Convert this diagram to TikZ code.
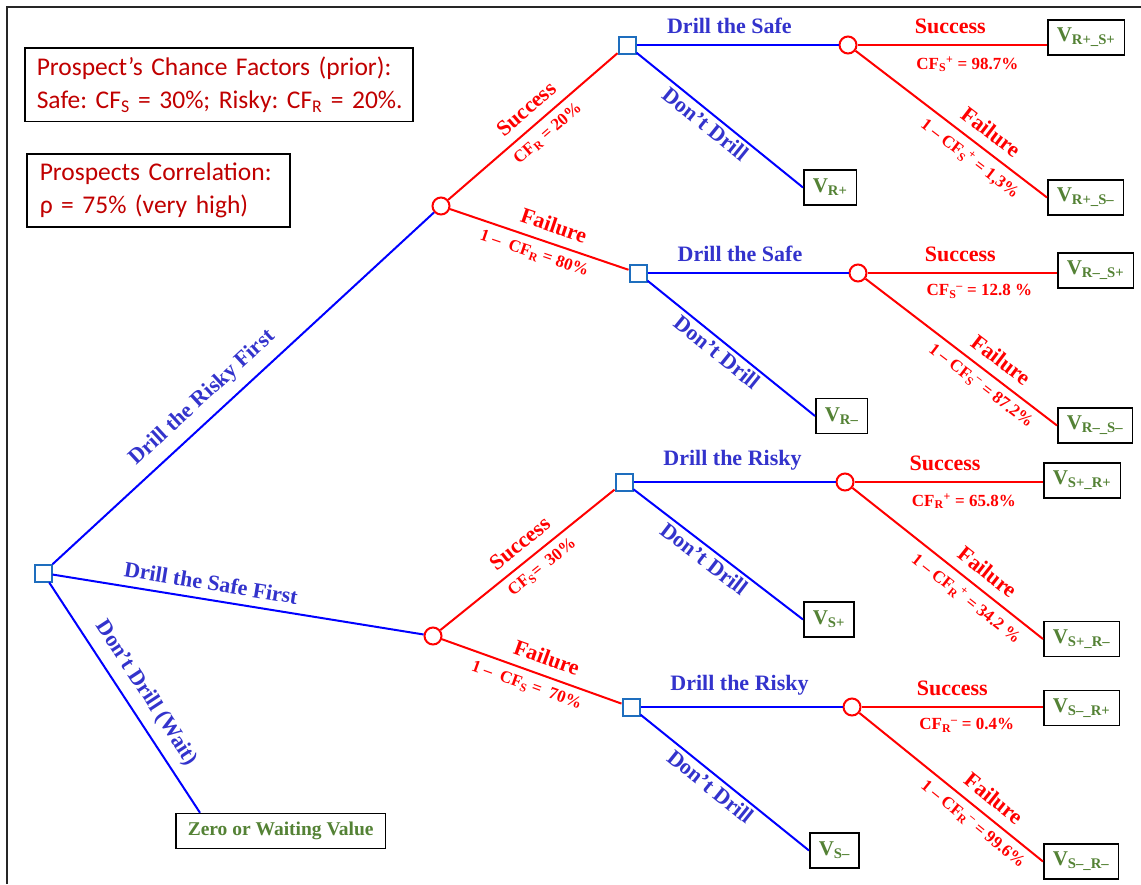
\documentclass[tikz,border=0pt]{standalone}
\usepackage{fontspec}
\setmainfont{Liberation Serif}
\newfontfamily\calib{Carlito}
\definecolor{lblblue}{RGB}{51,51,204}
\definecolor{lineblue}{RGB}{0,0,255}
\definecolor{decblue}{RGB}{30,110,190}
\definecolor{darkred}{RGB}{192,0,0}
\definecolor{vgreen}{RGB}{84,130,53}
\begin{document}
\frenchspacing
\begin{tikzpicture}[x=1pt,y=-1pt,
 dec/.style={draw=decblue, line width=2pt, fill=white, minimum size=17pt, inner sep=0pt},
 chn/.style={draw=red, line width=2pt, fill=white, circle, minimum size=17pt, inner sep=0pt},
 bl/.style={draw=lineblue, line width=2pt},
 rd/.style={draw=red, line width=2pt},
 act/.style={font=\fontsize{22}{26}\selectfont\bfseries, text=lblblue},
 oc/.style={font=\fontsize{22}{26}\selectfont\bfseries, text=red},
 pr/.style={font=\fontsize{17}{20}\selectfont\bfseries, text=red},
 val/.style={draw=black, line width=1.5pt, fill=white, font=\fontsize{21}{24}\selectfont\bfseries, text=vgreen, minimum height=35pt, inner xsep=9pt, inner ysep=2pt, anchor=west},
 info/.style={draw=black, line width=1.5pt, font=\calib\fontsize{25.5}{33}\selectfont, text=darkred, align=left, anchor=north west, inner xsep=12pt, inner ysep=9pt}
]
\useasboundingbox (0,0) rectangle (1141,884);
% frame
\draw[line width=1.5pt, black!85] (7,884) -- (7,7) -- (1141,7);

% info boxes
\node[info, text width=364pt] (info1) at (24,47) {\mbox{Prospect’s Chance Factors (prior):}\\\mbox{Safe: CF\textsubscript{S} = 30\%; Risky: CF\textsubscript{R} = 20\%.}};
\node[info, inner xsep=13pt, text width=237pt] (info2) at (26,153) {\mbox{Prospects Correlation:}\\\mbox{ρ = 75\% (very high)}};

% decision and chance nodes
\node[dec] (root) at (43,573) {};
\node[chn] (c1) at (441,206) {};
\node[chn] (c2) at (433,636) {};
\node[dec] (d1) at (627,45) {};
\node[dec] (d2) at (638,273) {};
\node[dec] (d3) at (624,482) {};
\node[dec] (d4) at (631,707) {};
\node[chn] (c11) at (848,45) {};
\node[chn] (c12) at (858,273) {};
\node[chn] (c21) at (845,482) {};
\node[chn] (c22) at (852,707) {};

% value boxes
\node[val] (vRpSp) at (1047,37.5) {V\textsubscript{R+\_S+}};
\node[val] (vRpSm) at (1047,197.5) {V\textsubscript{R+\_S–}};
\node[val] (vRp) at (803,187.5) {V\textsubscript{R+}};
\node[val] (vRmSp) at (1057,270.5) {V\textsubscript{R–\_S+}};
\node[val] (vRmSm) at (1057,425.5) {V\textsubscript{R–\_S–}};
\node[val] (vRm) at (815,416) {V\textsubscript{R–}};
\node[val] (vSpRp) at (1043,480.5) {V\textsubscript{S+\_R+}};
\node[val] (vSpRm) at (1043,639) {V\textsubscript{S+\_R–}};
\node[val] (vSp) at (803,619.5) {V\textsubscript{S+}};
\node[val] (vSmRp) at (1043,708) {V\textsubscript{S–\_R+}};
\node[val] (vSmRm) at (1043,861.5) {V\textsubscript{S–\_R–}};
\node[val] (vSm) at (809,850.5) {V\textsubscript{S–}};
\node[val, font=\fontsize{19.5}{22}\selectfont\bfseries, inner xsep=12pt] (zero) at (175,831) {Zero or Waiting Value};

% root branches
\draw[bl] (root) -- node[act, sloped, above=6pt, pos=0.43] {Drill the Risky First} (c1);
\draw[bl] (root) -- node[act, sloped, above=5pt, pos=0.42] {Drill the Safe First} (c2);
\draw[bl] (root) -- node[act, sloped, above=6pt, pos=0.53] {Don’t Drill (Wait)} ([xshift=25pt]zero.north west);

% upper chance node c1
\draw[rd] (c1) -- node[oc, sloped, above=6pt, pos=0.53] {Success} node[pr, sloped, below=4pt, pos=0.53] {CF\textsubscript{R} = 20\%} (d1);
\draw[rd] (c1) -- node[oc, sloped, above=6pt, pos=0.55] {Failure} node[pr, sloped, below=4pt, pos=0.5] {1 –~ CF\textsubscript{R} = 80\%} (d2);

% d1
\draw[bl] (d1) -- node[act, above=7pt, pos=0.46] {Drill the Safe} (c11);
\draw[bl] (d1) -- node[act, sloped, below=0pt, pos=0.46] {Don’t Drill} (vRp.west);
\draw[rd] (c11) -- node[oc, above=7pt, pos=0.49] {Success} node[pr, below=7pt, pos=0.58] {CF\textsubscript{S}\textsuperscript{+} = 98.7\%} (c11 -| vRpSp.west);
\draw[rd] (c11) -- node[oc, sloped, above=6pt, pos=0.65] {Failure} node[pr, sloped, below=4pt, pos=0.65] {1 – CF\textsubscript{S}\textsuperscript{+} = 1,3\%} (vRpSm.west);

% d2
\draw[bl] (d2) -- node[act, above=7pt, pos=0.46] {Drill the Safe} (c12);
\draw[bl] (d2) -- node[act, sloped, below=0pt, pos=0.46] {Don’t Drill} (vRm.west);
\draw[rd] (c12) -- node[oc, above=7pt, pos=0.49] {Success} node[pr, below=7pt, pos=0.59] {CF\textsubscript{S}\textsuperscript{–} = 12.8 \%} (c12 -| vRmSp.west);
\draw[rd] (c12) -- node[oc, sloped, above=6pt, pos=0.65] {Failure} node[pr, sloped, below=4pt, pos=0.65] {1 – CF\textsubscript{S}\textsuperscript{–} = 87.2\%} (vRmSm.west);

% lower chance node c2
\draw[rd] (c2) -- node[oc, sloped, above=6pt, pos=0.52] {Success} node[pr, sloped, below=4pt, pos=0.53] {CF\textsubscript{S}=~~30\%} (d3);
\draw[rd] (c2) -- node[oc, sloped, above=6pt, pos=0.55] {Failure} node[pr, sloped, below=4pt, pos=0.5] {1 –~ CF\textsubscript{S} =~ 70\%} (d4);

% d3
\draw[bl] (d3) -- node[act, above=7pt, pos=0.49] {Drill the Risky} (c21);
\draw[bl] (d3) -- node[act, sloped, below=0pt, pos=0.46] {Don’t Drill} (vSp.west);
\draw[rd] (c21) -- node[oc, above=7pt, pos=0.48] {Success} node[pr, below=7pt, pos=0.58] {CF\textsubscript{R}\textsuperscript{+} = 65.8\%} (c21 -| vSpRp.west);
\draw[rd] (c21) -- node[oc, sloped, above=6pt, pos=0.65] {Failure} node[pr, sloped, below=4pt, pos=0.65] {1 – CF\textsubscript{R}\textsuperscript{+} = 34.2 \%} (vSpRm.west);

% d4
\draw[bl] (d4) -- node[act, above=7pt, pos=0.49] {Drill the Risky} (c22);
\draw[bl] (d4) -- node[act, sloped, below=0pt, pos=0.46] {Don’t Drill} (vSm.west);
\draw[rd] (c22) -- node[oc, above=7pt, pos=0.5] {Success} node[pr, below=7pt, pos=0.58] {CF\textsubscript{R}\textsuperscript{–} = 0.4\%} (c22 -| vSmRp.west);
\draw[rd] (c22) -- node[oc, sloped, above=6pt, pos=0.67] {Failure} node[pr, sloped, below=4pt, pos=0.67] {1 – CF\textsubscript{R}\textsuperscript{–} = 99.6\%} (vSmRm.west);
\end{tikzpicture}
\end{document}
